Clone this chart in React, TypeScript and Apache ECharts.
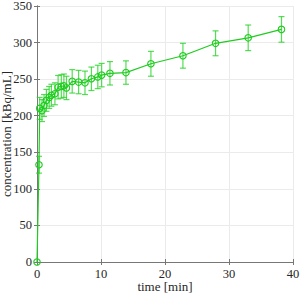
import React, { useEffect, useRef } from "react";
import * as echarts from "echarts";

const times = [0, 0.31, 0.42, 0.78, 1.1, 1.47, 1.9, 2.25, 2.8, 3.3, 3.8, 4.2, 4.6, 5.5, 6.5, 7.5, 8.5, 9.5, 10.1, 11.4, 13.9, 17.8, 22.8, 27.9, 33.0, 38.2];
const values = [0, 133, 210, 207, 214, 221, 225, 228, 230, 239, 240, 241, 238, 247, 246, 245, 250.5, 253, 255.5, 258, 259, 271, 282, 299, 306.5, 318];
const errors = [0, 11.5, 15, 15, 15, 15, 15, 15, 15, 16, 16, 16, 16, 16, 16, 16, 16, 16, 16, 16, 16, 17, 17, 17, 17.5, 17.5];
const xTicks = [0, 10, 20, 30, 40];
const yTicks = [0, 50, 100, 150, 200, 250, 300, 350];

const GREEN = "#1fcc1f";
const FONT = "Liberation Serif";
const TXT = "#262626";

export default function App() {
  const ref = useRef<HTMLDivElement>(null);
  useEffect(() => {
    if (!ref.current) return;
    const chart = echarts.init(ref.current, null, { renderer: "svg" });
    const lineData = times.map((t, i) => [t, values[i]]);
    const errData = times.map((t, i) => [t, values[i] - errors[i], values[i] + errors[i]]);
    const axisLine = { show: true, lineStyle: { color: "#777", width: 1 } };
    const axisTick = { show: true, inside: true, length: 3, lineStyle: { color: "#777" } };
    chart.setOption({
      animation: false,
      textStyle: { fontFamily: FONT },
      grid: { left: 37, right: 7, top: 6, bottom: 33, containLabel: false, outerBoundsMode: "none" },
      xAxis: [
        {
          type: "value",
          min: xTicks[0],
          max: xTicks[xTicks.length - 1],
          interval: 10,
          name: "time [min]",
          nameLocation: "middle",
          nameGap: 18,
          nameMoveOverlap: false,
          nameTextStyle: { fontFamily: FONT, fontSize: 13, color: TXT },
          axisLine,
          axisTick,
          axisLabel: { fontFamily: FONT, fontSize: 12.5, color: TXT, margin: 5 },
          splitLine: { show: true, lineStyle: { color: "#ebebeb", width: 1 } },
        },
        {
          type: "value",
          position: "top",
          min: xTicks[0],
          max: xTicks[xTicks.length - 1],
          interval: 10,
          axisLine,
          axisTick,
          axisLabel: { show: false },
          splitLine: { show: false },
        },
      ],
      yAxis: [
        {
          type: "value",
          min: yTicks[0],
          max: yTicks[yTicks.length - 1],
          interval: 50,
          name: "concentration [kBq/mL]",
          nameLocation: "middle",
          nameGap: 24,
          nameMoveOverlap: false,
          nameTextStyle: { fontFamily: FONT, fontSize: 13, color: TXT },
          axisLine,
          axisTick,
          axisLabel: { fontFamily: FONT, fontSize: 12.5, color: TXT, margin: 5 },
          splitLine: { show: true, lineStyle: { color: "#ebebeb", width: 1 } },
        },
        {
          type: "value",
          position: "right",
          min: yTicks[0],
          max: yTicks[yTicks.length - 1],
          interval: 50,
          axisLine,
          axisTick,
          axisLabel: { show: false },
          splitLine: { show: false },
        },
      ],
      series: [
        {
          type: "custom",
          xAxisIndex: 0,
          yAxisIndex: 0,
          data: errData,
          encode: { x: 0, y: [1, 2] },
          z: 2,
          renderItem: (params: any, api: any) => {
            const x = api.value(0);
            const lo = api.coord([x, api.value(1)]);
            const hi = api.coord([x, api.value(2)]);
            if (Math.abs(hi[1] - lo[1]) < 1) return { type: "group", children: [] };
            const w = 3;
            const style = { stroke: "#2bd42b", lineWidth: 1.2, opacity: 0.8 };
            return {
              type: "group",
              children: [
                { type: "line", shape: { x1: lo[0], y1: lo[1], x2: hi[0], y2: hi[1] }, style },
                { type: "line", shape: { x1: lo[0] - w, y1: lo[1], x2: lo[0] + w, y2: lo[1] }, style },
                { type: "line", shape: { x1: hi[0] - w, y1: hi[1], x2: hi[0] + w, y2: hi[1] }, style },
              ],
            };
          },
        },
        {
          type: "line",
          xAxisIndex: 0,
          yAxisIndex: 0,
          data: lineData,
          z: 3,
          symbol: "circle",
          symbolSize: 6.5,
          showAllSymbol: true,
          lineStyle: { color: GREEN, width: 1.2 },
          itemStyle: { color: "rgba(0,0,0,0)", borderColor: GREEN, borderWidth: 1.1 },
        },
      ],
    });
    return () => chart.dispose();
  }, []);
  return <div ref={ref} style={{ width: 300, height: 295, position: "absolute", left: 0, top: 0 }} />;
}
